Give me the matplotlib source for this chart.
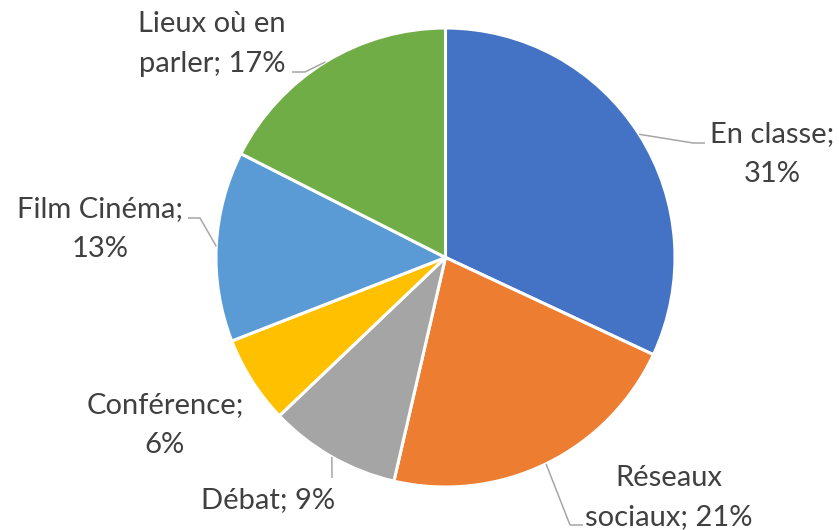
import matplotlib.pyplot as plt
import numpy as np

# data (labels show the raw values with a % sign)
categories = ["En classe", "Réseaux sociaux", "Débat", "Conférence", "Film Cinéma", "Lieux où en parler"]
values = [31, 21, 9, 6, 13, 17]
colors = ["#4472C4", "#ED7D31", "#A5A5A5", "#FFC000", "#5B9BD5", "#70AD47"]

label_texts = [
    "En classe;\n31%",
    "Réseaux\nsociaux; 21%",
    "Débat; 9%",
    "Conférence;\n6%",
    "Film Cinéma;\n13%",
    "Lieux où en\nparler; 17%",
]

W, H = 839, 530
# label block centres (pixel coords, y from top)
label_pos = [(772, 154), (669, 498), (268, 500), (165, 425), (100, 229), (212, 44)]
# leader line elbows after the start point on the pie edge (None = no leader)
leader_pts = [
    [(693, 143), (705, 143)],
    [(570, 525), (583, 525)],
    [(332, 478)],
    None,
    [(200, 218), (188, 218)],
    [(305, 72), (292, 72)],
]

plt.rcParams["font.family"] = ["Lato", "DejaVu Sans"]

fig = plt.figure(figsize=(W / 100, H / 100), dpi=100)
ax = fig.add_axes([0, 0, 1, 1])

cx, cy, r = 445.5, H - 257.5, 229.5
wedges, _ = ax.pie(
    values,
    colors=colors,
    startangle=90,
    counterclock=False,
    center=(cx, cy),
    radius=r,
    wedgeprops=dict(edgecolor="white", linewidth=2.2),
    frame=True,
)
ax.set_xlim(0, W)
ax.set_ylim(0, H)
ax.set_aspect("equal")
ax.axis("off")

for w, txt, (lx, ly), pts in zip(wedges, label_texts, label_pos, leader_pts):
    ax.text(lx, H - ly, txt, ha="center", va="center", fontsize=21,
            color="#404040", linespacing=1.62)
    if pts is None:
        continue
    mid = np.deg2rad((w.theta1 + w.theta2) / 2)
    xs = [cx + r * np.cos(mid)] + [p[0] for p in pts]
    ys = [cy + r * np.sin(mid)] + [H - p[1] for p in pts]
    ax.plot(xs, ys, color="#A6A6A6", lw=1.1, solid_capstyle="butt")

fig.savefig("out.png", dpi=100)
